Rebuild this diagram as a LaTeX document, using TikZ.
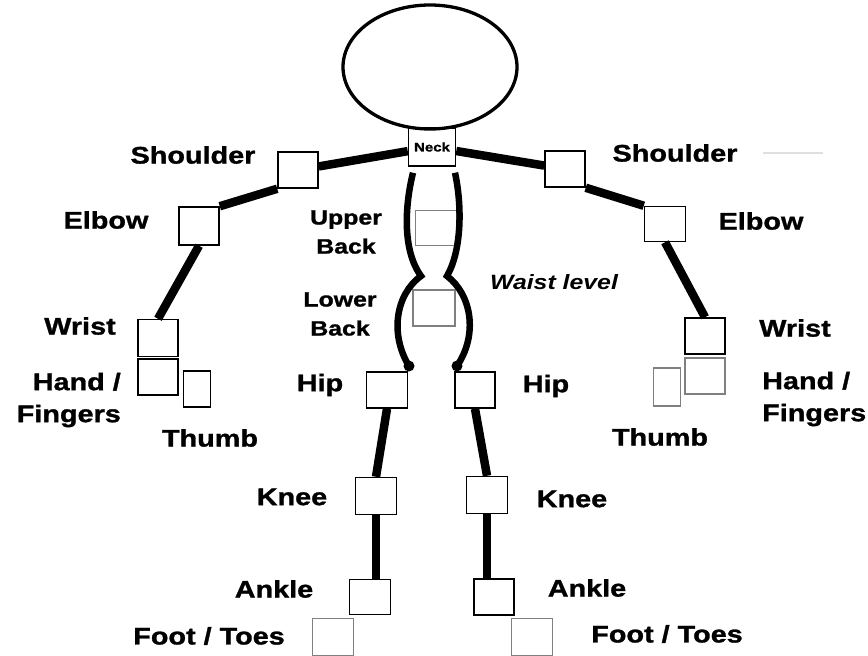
\documentclass[tikz,border=0pt]{standalone}
\usepackage{fontspec}
\setmainfont[FakeStretch=1.2, BoldFeatures={FakeBold=1.2}]{Liberation Sans}
\usetikzlibrary{shapes.geometric,calc}

\begin{document}
\begin{tikzpicture}[x=1pt, y=-1pt,
    every node/.style={font=\bfseries\fontsize{24}{32}\selectfont, inner sep=0pt},
    joint/.style={draw, line width=1.5pt, minimum width=40, minimum height=36},
    soft/.style={joint, draw=gray},
    limb/.style={line width=8.5pt},
    spine/.style={line width=6.5pt, line join=miter}]
    \useasboundingbox (0,0) rectangle (868,656);

    % head and neck
    \node[ellipse, draw, line width=3.3pt, minimum width=174, minimum height=124] (head) at (430,67) {};
    \node[joint, minimum width=47, minimum height=38, font=\bfseries\fontsize{12.5}{14}\selectfont] (neck) at (432,147) {Neck};

    % joints
    \node[joint] (lsho) at (298,170) {};
    \node[joint] (rsho) at (565,169) {};
    \node[joint, minimum height=38] (lelb) at (199,226) {};
    \node[joint, minimum width=41, minimum height=35] (relb) at (665,224) {};
    \node[joint, minimum height=37] (lwri) at (158,338) {};
    \node[joint] (rwri) at (705,336) {};
    \node[joint] (lhnd) at (158,377) {};
    \node[soft] (rhnd) at (705,376) {};
    \node[joint, minimum width=27] (lthb) at (197,389) {};
    \node[soft, minimum width=27, minimum height=38] (rthb) at (667,387) {};
    \node[soft, minimum width=41, minimum height=35] (ubak) at (436,228) {};
    \node[soft, minimum width=42] (lbak) at (434,308) {};
    \node[joint, minimum width=41] (lhip) at (387,390) {};
    \node[joint] (rhip) at (475,390) {};
    \node[joint, minimum width=41, minimum height=37] (lkne) at (376,496) {};
    \node[joint, minimum width=41, minimum height=37] (rkne) at (487,495) {};
    \node[joint, minimum width=41, minimum height=35] (lank) at (370,597) {};
    \node[joint, minimum height=36] (rank) at (494,597) {};
    \node[soft, minimum width=41, minimum height=37] (lfot) at (333,637) {};
    \node[soft, minimum width=41, minimum height=37] (rfot) at (532,637) {};

    % labels
    \node (lshoL) at (193,155) {Shoulder};
    \node (rshoL) at (675,153) {Shoulder};
    \node (lelbL) at (106,220) {Elbow};
    \node (relbL) at (761,221) {Elbow};
    \node (lwriL) at (80,326) {Wrist};
    \node (rwriL) at (795,328) {Wrist};
    \node[align=right, anchor=east] (lhndL) at (121,400) {Hand /\\Fingers};
    \node[align=left, anchor=west] (rhndL) at (762,399) {Hand /\\Fingers};
    \node (lthbL) at (210,438) {Thumb};
    \node (rthbL) at (660,437) {Thumb};
    \node[align=center, font=\bfseries\fontsize{20.7}{29}\selectfont] (ubakL) at (346,232) {Upper\\Back};
    \node[align=center, font=\bfseries\fontsize{20.7}{29}\selectfont] (lbakL) at (340,314) {Lower\\Back};
    \node[font=\bfseries\itshape\fontsize{20.7}{29}\selectfont] (waistL) at (554,282) {Waist level};
    \node (lhipL) at (320,385) {Hip};
    \node (rhipL) at (546,386) {Hip};
    \node (lkneL) at (292,497) {Knee};
    \node (rkneL) at (572,499) {Knee};
    \node (lankL) at (274,589) {Ankle};
    \node (rankL) at (587,588) {Ankle};
    \node (lfotL) at (209,636) {Foot / Toes};
    \node (rfotL) at (667,634) {Foot / Toes};
    \draw[gray!25, line width=1.5pt] ([xshift=25]rshoL.east) -- ++(60,0);

    % arms
    \draw[limb] (neck) -- (lsho);
    \draw[limb] (neck) -- (rsho);
    \draw[limb] (lsho.south west) -- (lelb.north east);
    \draw[limb] (rsho.south east) -- (relb.north west);
    \draw[limb] (lelb.south) -- (lwri.north);
    \draw[limb] (relb.south) -- (rwri.north);

    % trunk
    \draw[spine] ($(neck.south)+(-19,6)$) .. controls (405,205) and (402,250) .. (421,276)
        .. controls (395,295) and (390,335) .. (409,366);
    \draw[spine] ($(neck.south)+(23,6)$) .. controls (462,205) and (462,250) .. (447,276)
        .. controls (472,295) and (478,335) .. (457,366);
    \fill (409,366) circle (5.5);
    \fill (457,366) circle (5.5);

    % legs
    \draw[limb] (lhip.south) -- (lkne.north);
    \draw[limb] (rhip.south) -- (rkne.north);
    \draw[limb] (lkne.south) -- (lkne.south |- lank.north);
    \draw[limb] (rkne.south) -- (rkne.south |- rank.north);
\end{tikzpicture}
\end{document}
